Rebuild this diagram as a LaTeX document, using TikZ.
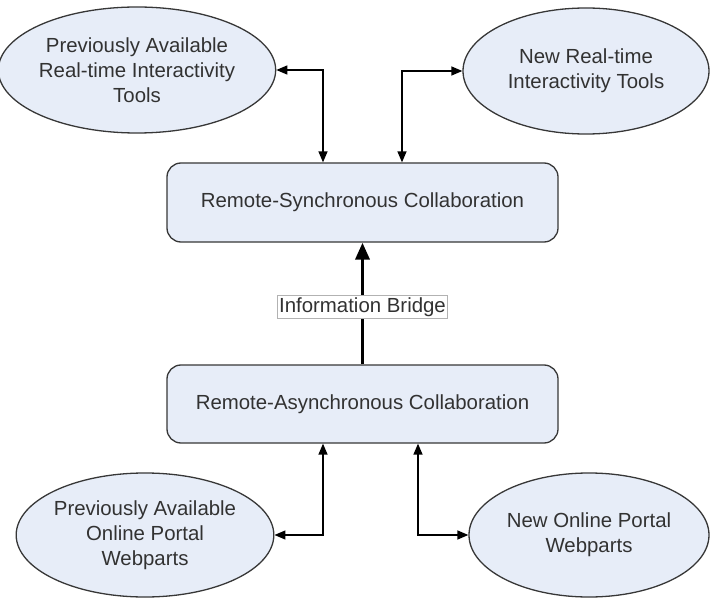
\documentclass[tikz,border=0pt]{standalone}
\usepackage{fontspec}
\setmainfont{Liberation Sans}
\usetikzlibrary{shapes.geometric,arrows.meta}
\definecolor{nodefill}{RGB}{231,237,248}
\definecolor{nodeline}{RGB}{55,55,55}
\definecolor{nodetext}{RGB}{50,50,50}
\tikzset{
  toolellipse/.style={ellipse, draw=nodeline, line width=1.3pt, fill=nodefill,
    inner sep=0pt, align=center, text=nodetext,
    font=\fontsize{20.4pt}{25pt}\selectfont},
  collabbox/.style={rectangle, rounded corners=14pt, draw=nodeline, line width=1.3pt,
    fill=nodefill, minimum width=391pt, inner sep=0pt, text=nodetext,
    font=\fontsize{20.4pt}{25pt}\selectfont},
  biarrow/.style={line width=1.4pt, {Triangle[length=11pt,width=9pt]}-{Triangle[length=11pt,width=9pt]}},
  bridge/.style={line width=3.5pt, -{Triangle[length=17pt,width=14pt]}},
  bridgelabel/.style={draw=gray!60, line width=0.6pt, fill=white, inner xsep=1.5pt,
    inner ysep=2pt, text=nodetext, font=\fontsize{20.4pt}{25pt}\selectfont}
}
\begin{document}
\begin{tikzpicture}[x=1pt,y=-1pt]
\useasboundingbox (0,0) rectangle (710,599);

% collaboration layers
\node[collabbox, minimum height=79pt] (sync) at (362.5,202.5) {Remote-Synchronous Collaboration};
\node[collabbox, minimum height=78pt] (async) at (362.5,404) {Remote-Asynchronous Collaboration};

% tool ellipses
\node[toolellipse, minimum width=250pt, minimum height=126pt] (prevrt) at (137,70)
  {Previously Available\\Real-time Interactivity\\Tools};
\node[toolellipse, minimum width=246pt, minimum height=126pt] (newrt) at (586,71)
  {New Real-time\\Interactivity Tools};
\node[toolellipse, minimum width=250pt, minimum height=124pt] (prevweb) at (145,535)
  {Previously Available\\Online Portal\\Webparts};
\node[toolellipse, minimum width=240pt, minimum height=124pt] (newweb) at (589,535)
  {New Online Portal\\Webparts};

% connectors
\draw[biarrow] (prevrt.east) -| ([xshift=-39.5pt]sync.north);
\draw[biarrow] (newrt.west) -| ([xshift=39.5pt]sync.north);
\draw[biarrow] (prevweb.east) -| ([xshift=-39.5pt]async.south);
\draw[biarrow] (newweb.west) -| ([xshift=55.5pt]async.south);

% information bridge
\draw[bridge] (async.north) -- (sync.south)
  node[bridgelabel, pos=0.47] (bridgetext) {Information Bridge};
\end{tikzpicture}
\end{document}
